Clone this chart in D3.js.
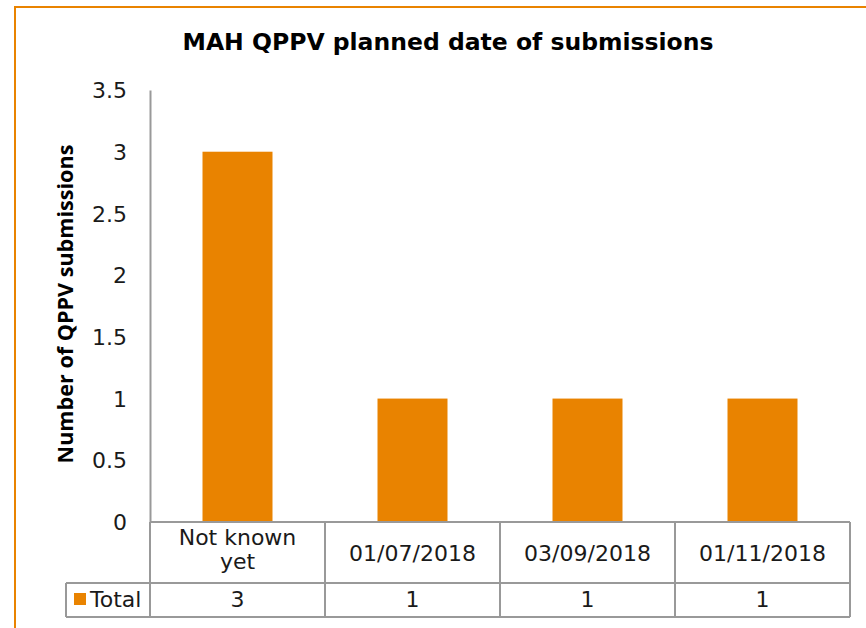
<!DOCTYPE html>
<html>
<head>
<meta charset="utf-8">
<script src="https://cdn.jsdelivr.net/npm/d3@7"></script>
<style>
  body { margin: 0; background: #fff; }
  text { font-family: "DejaVu Sans", Verdana, sans-serif; fill: #1a1a1a; }
</style>
</head>
<body>
<script>
const width = 866;
const height = 628;

// data
const categories = ["Not known yet", "01/07/2018", "03/09/2018", "01/11/2018"];
const categoryLines = [["Not known", "yet"], ["01/07/2018"], ["03/09/2018"], ["01/11/2018"]];
const totals = [3, 1, 1, 1];
const yTicks = [0, 0.5, 1, 1.5, 2, 2.5, 3, 3.5];
const seriesName = "Total";

const orange = "#E98300";
const gridGray = "#999";

const svg = d3.select("body")
    .append("svg")
    .attr("width", width)
    .attr("height", height);

// chart area border (only top and left visible)
svg.append("path")
    .attr("d", "M15,640 L15,7 L880,7")
    .style("fill", "none")
    .style("stroke", orange)
    .style("stroke-width", 2);

const x = d3.scaleBand()
    .domain(categories)
    .range([150, 850])
    .paddingInner(0.6)
    .paddingOuter(0.3);

const y = d3.scaleLinear()
    .domain([0, 3.5])
    .range([522, 90]);

// title
svg.append("text")
    .attr("x", 448)
    .attr("y", 50)
    .attr("text-anchor", "middle")
    .style("font-size", "23.5px")
    .style("font-weight", "bold")
    .style("fill", "#000")
    .text("MAH QPPV planned date of submissions");

// y axis title
svg.append("text")
    .attr("transform", "translate(73,304) rotate(-90)")
    .attr("text-anchor", "middle")
    .style("font-family", "'Open Sans', Lato, sans-serif")
    .style("font-size", "21.6px")
    .style("font-weight", "bold")
    .style("fill", "#000")
    .text("Number of QPPV submissions");

// y axis
const yAxis = svg.append("g")
    .attr("transform", "translate(150,0)")
    .call(d3.axisLeft(y).tickValues(yTicks).tickSize(0).tickPadding(23)
        .tickFormat(d => d3.format("~g")(d)));
yAxis.select(".domain").style("stroke", gridGray).style("stroke-width", 2);
yAxis.selectAll("text")
    .style("font-family", "'DejaVu Sans', Verdana, sans-serif")
    .style("font-size", "22px")
    .style("fill", "#1a1a1a")
    .attr("dy", "0.35em");

// bars
svg.selectAll("rect.bar")
    .data(totals)
    .enter()
    .append("rect")
    .attr("class", "bar")
    .attr("x", (d, i) => x(categories[i]))
    .attr("y", d => y(d))
    .attr("width", x.bandwidth())
    .attr("height", d => y(0) - y(d))
    .style("fill", orange);

// data table
const rowTop = y(0);
const rowMid = 583;
const rowBot = 617;
const tableLeft = 66;
const step = x.step();
const cellLeft = c => x(c) - x.paddingOuter() * step;
const table = svg.append("g")
    .style("stroke", gridGray)
    .style("stroke-width", 2)
    .style("fill", "none");

table.append("line").attr("x1", 150).attr("x2", 850).attr("y1", rowTop).attr("y2", rowTop);
table.append("line").attr("x1", tableLeft).attr("x2", 850).attr("y1", rowMid).attr("y2", rowMid);
table.append("line").attr("x1", tableLeft).attr("x2", 850).attr("y1", rowBot).attr("y2", rowBot);
table.append("line").attr("x1", tableLeft).attr("x2", tableLeft).attr("y1", rowMid).attr("y2", rowBot);
table.append("line").attr("x1", 150).attr("x2", 150).attr("y1", rowTop).attr("y2", rowBot);
table.selectAll("line.sep")
    .data(categories)
    .enter()
    .append("line")
    .attr("class", "sep")
    .attr("x1", c => cellLeft(c) + step)
    .attr("x2", c => cellLeft(c) + step)
    .attr("y1", rowTop)
    .attr("y2", rowBot);

// category labels (one text per label, wrapped with tspans)
categories.forEach((c, i) => {
    const lines = categoryLines[i];
    const cx = x(c) + x.bandwidth() / 2;
    const t = svg.append("text")
        .attr("x", cx)
        .attr("y", lines.length > 1 ? 545 : 561)
        .attr("text-anchor", "middle")
        .style("font-size", "22px");
    lines.forEach((ln, j) => {
        t.append("tspan")
            .attr("x", cx)
            .attr("dy", j === 0 ? 0 : 24)
            .text(ln);
    });
});

// values row
svg.selectAll("text.val")
    .data(totals)
    .enter()
    .append("text")
    .attr("class", "val")
    .attr("x", (d, i) => x(categories[i]) + x.bandwidth() / 2)
    .attr("y", 607)
    .attr("text-anchor", "middle")
    .style("font-size", "22px")
    .text(d => d);

// legend key in table
svg.append("rect")
    .attr("x", 74)
    .attr("y", 593)
    .attr("width", 12)
    .attr("height", 12)
    .style("fill", orange);
svg.append("text")
    .attr("x", 90)
    .attr("y", 607)
    .style("font-size", "22px")
    .text(seriesName);
</script>
</body>
</html>
